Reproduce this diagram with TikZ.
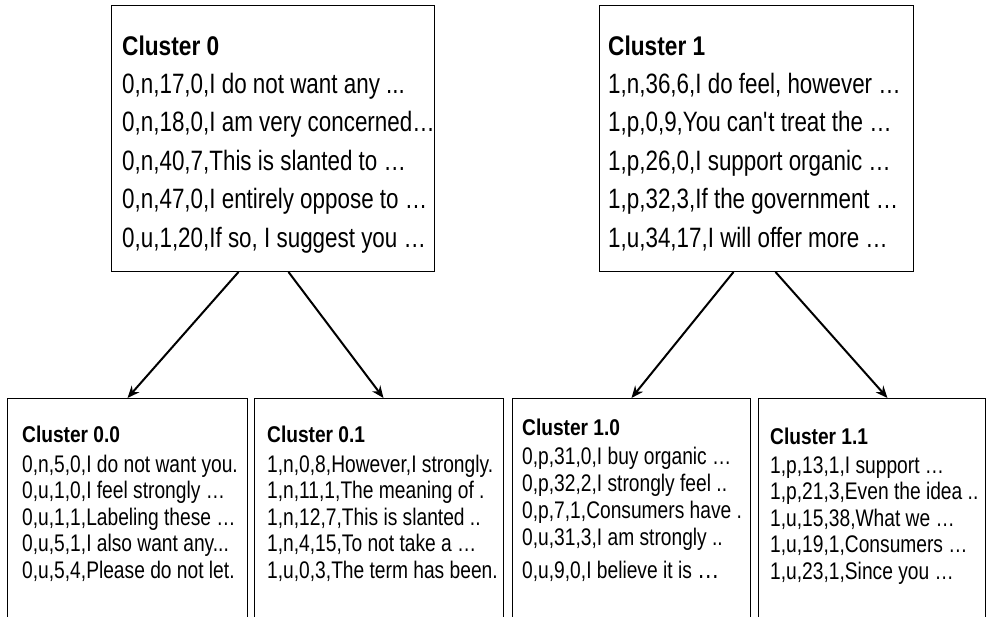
\documentclass[tikz,border=0pt]{standalone}
\usepackage{fontspec}
\setmainfont{Liberation Sans}[FakeStretch=0.8]
\newfontfamily\headfont{Liberation Sans}[FakeStretch=0.84]
\usetikzlibrary{arrows.meta}
\begin{document}
\begin{tikzpicture}[x=1pt,y=-1pt,
  box/.style={draw=black, line width=1pt, anchor=north west, inner sep=0pt},
  bigtitle/.style={anchor=base west, inner sep=0pt, font=\headfont\fontsize{27}{27}\selectfont\bfseries},
  bigrow/.style={anchor=base west, inner sep=0pt, font=\fontsize{28}{28}\selectfont},
  smalltitle/.style={anchor=base west, inner sep=0pt, font=\headfont\fontsize{22.8}{22.8}\selectfont\bfseries},
  smallrow/.style={anchor=base west, inner sep=0pt, font=\fontsize{24}{24}\selectfont},
  split/.style={-{Stealth[length=12pt,width=10pt]}, line width=2pt, black}]
\useasboundingbox (0,0) rectangle (987,617);
\clip (0,0) rectangle (987,617);

% parent clusters
\node[box, minimum width=323pt, minimum height=266pt] (c0) at (111,5) {};
\node[box, minimum width=314pt, minimum height=266pt] (c1) at (599,5) {};

% child clusters (open at the lower edge)
\node[box, minimum width=240pt, minimum height=260pt] (c00) at (7,398) {};
\node[box, minimum width=249pt, minimum height=260pt] (c01) at (254,398) {};
\node[box, minimum width=238pt, minimum height=260pt] (c10) at (512,398) {};
\node[box, minimum width=227pt, minimum height=260pt] (c11) at (758,398) {};

% Cluster 0
\node[bigtitle] (t0) at (122,56) {Cluster 0};
\node[bigrow] (r0-1) at (122,93.5) {0,n,17,0,I do not want any ...};
\node[bigrow] (r0-2) at (122,132) {0,n,18,0,I am very concerned…};
\node[bigrow] (r0-3) at (122,170.5) {0,n,40,7,This is slanted to …};
\node[bigrow] (r0-4) at (122,209) {0,n,47,0,I entirely oppose to …};
\node[bigrow] (r0-5) at (122,247.5) {0,u,1,20,If so, I suggest you …};

% Cluster 1
\node[bigtitle] (t1) at (608,56) {Cluster 1};
\node[bigrow] (r1-1) at (608,93.5) {1,n,36,6,I do feel, however …};
\node[bigrow] (r1-2) at (608,132) {1,p,0,9,You can\textquotesingle t treat the …};
\node[bigrow] (r1-3) at (608,170.5) {1,p,26,0,I support organic …};
\node[bigrow] (r1-4) at (608,209) {1,p,32,3,If the government …};
\node[bigrow] (r1-5) at (608,247.5) {1,u,34,17,I will offer more …};

% Cluster 0.0
\node[smalltitle] (t00) at (22,442) {Cluster 0.0};
\node[smallrow] (r00-1) at (22,472) {0,n,5,0,I do not want you.};
\node[smallrow] (r00-2) at (22,498.5) {0,u,1,0,I feel strongly …};
\node[smallrow] (r00-3) at (22,525) {0,u,1,1,Labeling these …};
\node[smallrow] (r00-4) at (22,551.5) {0,u,5,1,I also want any...};
\node[smallrow] (r00-5) at (22,578) {0,u,5,4,Please do not let.};

% Cluster 0.1
\node[smalltitle] (t01) at (267,442) {Cluster 0.1};
\node[smallrow] (r01-1) at (267,472) {1,n,0,8,However,I strongly.};
\node[smallrow] (r01-2) at (267,498.5) {1,n,11,1,The meaning of .};
\node[smallrow] (r01-3) at (267,525) {1,n,12,7,This is slanted ..};
\node[smallrow] (r01-4) at (267,551.5) {1,n,4,15,To not take a …};
\node[smallrow] (r01-5) at (267,578) {1,u,0,3,The term has been.};

% Cluster 1.0
\node[smalltitle] (t10) at (522,435) {Cluster 1.0};
\node[smallrow] (r10-1) at (522,464) {0,p,31,0,I buy organic …};
\node[smallrow] (r10-2) at (522,491) {0,p,32,2,I strongly feel ..};
\node[smallrow] (r10-3) at (522,518) {0,p,7,1,Consumers have .};
\node[smallrow] (r10-4) at (522,545) {0,u,31,3,I am strongly ..};
\node[smallrow] (r10-5) at (522,578) {0,u,9,0,I believe it is {\fontsize{28}{28}\selectfont …}};

% Cluster 1.1
\node[smalltitle] (t11) at (770,444) {Cluster 1.1};
\node[smallrow] (r11-1) at (770,473) {1,p,13,1,I support …};
\node[smallrow] (r11-2) at (770,499.5) {1,p,21,3,Even the idea ..};
\node[smallrow] (r11-3) at (770,526) {1,u,15,38,What we …};
\node[smallrow] (r11-4) at (770,552.5) {1,u,19,1,Consumers …};
\node[smallrow] (r11-5) at (770,579) {1,u,23,1,Since you …};

% splits
\draw[split] ([xshift=-34.5pt]c0.south) -- (c00.north);
\draw[split] ([xshift=15.5pt]c0.south) -- ([xshift=4.5pt]c01.north);
\draw[split] ([xshift=-23pt]c1.south) -- (c10.north);
\draw[split] ([xshift=19pt]c1.south) -- ([xshift=15.5pt]c11.north);
\end{tikzpicture}
\end{document}
